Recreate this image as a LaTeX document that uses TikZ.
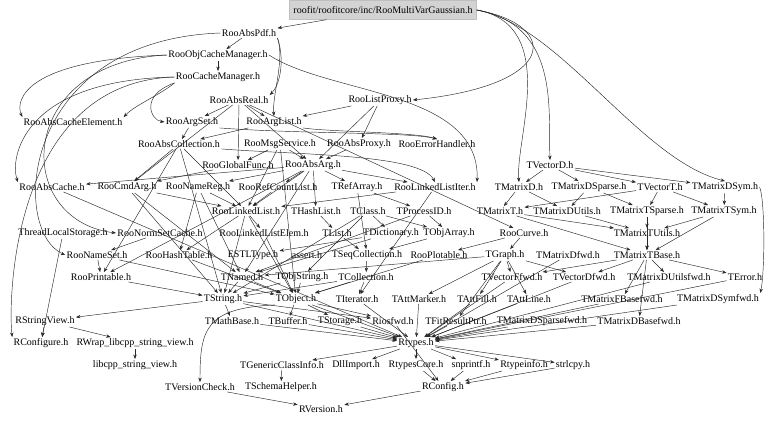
\documentclass[tikz,border=0pt]{standalone}
\usepackage{fontspec}
\setmainfont{Liberation Serif}
\usetikzlibrary{arrows.meta}
\definecolor{ttlfill}{RGB}{211,211,211}
\definecolor{ttldraw}{RGB}{191,191,191}
\definecolor{edgecol}{RGB}{40,40,40}
\tikzset{
  hdr/.style={font=\fontsize{10}{12}\selectfont, inner sep=1.2pt},
  ttl/.style={hdr, fill=ttlfill, draw=ttldraw, minimum width=187pt, minimum height=19pt, inner sep=0pt},
  dep/.style={-{Stealth[length=4.5pt,width=3.4pt]}, draw=edgecol, line width=0.45pt},
}
\begin{document}
\begin{tikzpicture}[x=1pt,y=-1pt]
\useasboundingbox (0,0) rectangle (768,422);
\node[ttl] (title) at (383,10) {roofit/roofitcore/inc/RooMultiVarGaussian.h};
% row 33..100
\node[hdr] (AbsPdf) at (249,33) {RooAbsPdf.h};
\node[hdr] (ObjCM) at (218,55) {RooObjCacheManager.h};
\node[hdr] (CacheM) at (218,77) {RooCacheManager.h};
\node[hdr] (AbsReal) at (239,100) {RooAbsReal.h};
\node[hdr] (ListProxy) at (380,100) {RooListProxy.h};
% 122
\node[hdr] (AbsCacheEl) at (73,122) {RooAbsCacheElement.h};
\node[hdr] (ArgSet) at (192,122) {RooArgSet.h};
\node[hdr] (ArgList) at (274,122) {RooArgList.h};
% 144
\node[hdr] (AbsColl) at (179,144) {RooAbsCollection.h};
\node[hdr] (MsgSvc) at (280,144) {RooMsgService.h};
\node[hdr] (AbsProxy) at (359,144) {RooAbsProxy.h};
\node[hdr] (ErrH) at (437,144) {RooErrorHandler.h};
% 165
\node[hdr] (GlobalFunc) at (238,165) {RooGlobalFunc.h};
\node[hdr] (AbsArg) at (313,165) {RooAbsArg.h};
\node[hdr] (VectorD) at (550,165) {TVectorD.h};
% 187
\node[hdr] (AbsCache) at (52,187) {RooAbsCache.h};
\node[hdr] (CmdArg) at (127,187) {RooCmdArg.h};
\node[hdr] (NameReg) at (198,187) {RooNameReg.h};
\node[hdr] (RefCount) at (278,187) {RooRefCountList.h};
\node[hdr] (TRefArray) at (357,187) {TRefArray.h};
\node[hdr] (LLIter) at (435,187) {RooLinkedListIter.h};
\node[hdr] (MatD) at (519,187) {TMatrixD.h};
\node[hdr] (MatDSp) at (589,187) {TMatrixDSparse.h};
\node[hdr] (VecT) at (660,187) {TVectorT.h};
\node[hdr] (MatDSym) at (725,187) {TMatrixDSym.h};
% 211
\node[hdr] (LinkedList) at (246,211) {RooLinkedList.h};
\node[hdr] (THashList) at (316,211) {THashList.h};
\node[hdr] (TClass) at (368,211) {TClass.h};
\node[hdr] (TProcessID) at (424,211) {TProcessID.h};
\node[hdr] (MatT) at (500,211) {TMatrixT.h};
\node[hdr] (MatDUtils) at (567,211) {TMatrixDUtils.h};
\node[hdr] (MatTSp) at (647,211) {TMatrixTSparse.h};
\node[hdr] (MatTSym) at (724,211) {TMatrixTSym.h};
% 233
\node[hdr] (TLS) at (63,233) {ThreadLocalStorage.h};
\node[hdr] (NormSetCache) at (160,233) {RooNormSetCache.h};
\node[hdr] (LLElem) at (264,233) {RooLinkedListElem.h};
\node[hdr] (TList) at (337,233) {TList.h};
\node[hdr] (TDict) at (391,233) {TDictionary.h};
\node[hdr] (TObjArray) at (449,233) {TObjArray.h};
\node[hdr] (RooCurve) at (524,233) {RooCurve.h};
\node[hdr] (MatTUtils) at (647,233) {TMatrixTUtils.h};
% 255
\node[hdr] (NameSet) at (97,255) {RooNameSet.h};
\node[hdr] (HashTable) at (179,255) {RooHashTable.h};
\node[hdr] (ESTL) at (253,255) {ESTLType.h};
\node[hdr] (assert) at (307,255) {assert.h};
\node[hdr] (TSeqColl) at (367,255) {TSeqCollection.h};
\node[hdr] (Plotable) at (439,255) {RooPlotable.h};
\node[hdr] (TGraph) at (505,255) {TGraph.h};
\node[hdr] (MatDfwd) at (568,255) {TMatrixDfwd.h};
\node[hdr] (MatTBase) at (647,255) {TMatrixTBase.h};
% 277
\node[hdr] (Printable) at (101,277) {RooPrintable.h};
\node[hdr] (TNamed) at (242,277) {TNamed.h};
\node[hdr] (TObjString) at (302,277) {TObjString.h};
\node[hdr] (TCollection) at (366,277) {TCollection.h};
\node[hdr] (VecFfwd) at (512,277) {TVectorFfwd.h};
\node[hdr] (VecDfwd) at (584,277) {TVectorDfwd.h};
\node[hdr] (MatDUtilsfwd) at (669,277) {TMatrixDUtilsfwd.h};
\node[hdr] (TError) at (745,277) {TError.h};
% 299
\node[hdr] (TString) at (223,299) {TString.h};
\node[hdr] (TObject) at (296,299) {TObject.h};
\node[hdr] (TIterator) at (357,299) {TIterator.h};
\node[hdr] (TAttMarker) at (419,299) {TAttMarker.h};
\node[hdr] (TAttFill) at (477,299) {TAttFill.h};
\node[hdr] (TAttLine) at (529,299) {TAttLine.h};
\node[hdr] (MatFBasefwd) at (622,299) {TMatrixFBasefwd.h};
\node[hdr] (MatDSymfwd) at (718,299) {TMatrixDSymfwd.h};
% 321
\node[hdr] (RStringView) at (45,321) {RStringView.h};
\node[hdr] (TMathBase) at (232,321) {TMathBase.h};
\node[hdr] (TBuffer) at (288,321) {TBuffer.h};
\node[hdr] (TStorage) at (340,321) {TStorage.h};
\node[hdr] (Riosfwd) at (393,321) {Riosfwd.h};
\node[hdr] (TFitResultPtr) at (456,321) {TFitResultPtr.h};
\node[hdr] (MatDSpfwd) at (542,321) {TMatrixDSparsefwd.h};
\node[hdr] (MatDBasefwd) at (639,321) {TMatrixDBasefwd.h};
% 343
\node[hdr] (RConfigure) at (41,343) {RConfigure.h};
\node[hdr] (RWrap) at (135,343) {RWrap\_libcpp\_string\_view.h};
\node[hdr] (Rtypes) at (416,343) {Rtypes.h};
% 365
\node[hdr] (libcpp) at (135,365) {libcpp\_string\_view.h};
\node[hdr] (TGenCI) at (282,365) {TGenericClassInfo.h};
\node[hdr] (DllImport) at (356,365) {DllImport.h};
\node[hdr] (RtypesCore) at (416,365) {RtypesCore.h};
\node[hdr] (snprintf) at (471,365) {snprintf.h};
\node[hdr] (Rtypeinfo) at (524,365) {Rtypeinfo.h};
\node[hdr] (strlcpy) at (573,365) {strlcpy.h};
% 387
\node[hdr] (TVersionCheck) at (200,387) {TVersionCheck.h};
\node[hdr] (TSchemaHelper) at (281,387) {TSchemaHelper.h};
\node[hdr] (RConfig) at (443,387) {RConfig.h};
% 409
\node[hdr] (RVersion) at (321,409) {RVersion.h};

% ---- curved edges ----
\draw[dep] (title) -- (AbsPdf);
\draw[dep] (title.east) .. controls (560,25) and (560,85) .. (ListProxy.east);
\draw[dep] (title.east) .. controls (560,25) and (548,110) .. (VectorD.north);
\draw[dep] (title.east) .. controls (560,25) and (515,140) .. (MatD.north);
\draw[dep] (title.east) .. controls (560,25) and (640,160) .. (MatDSym.north);
\draw[dep] (AbsPdf.west) .. controls (20,40) and (10,230) .. (NameSet.west);
\draw[dep] (ObjCM.west) .. controls (25,60) and (15,100) .. (AbsCacheEl.north west);
\draw[dep] (CacheM.west) .. controls (20,80) and (10,160) .. (AbsCache.north west);
\draw[dep] (ObjCM.west) .. controls (15,62) and (12,220) .. (NormSetCache.west);
\draw[dep] (CacheM.west) .. controls (12,82) and (8,300) .. (RConfigure.north west);
\draw[dep] (AbsPdf.south east) .. controls (285,60) and (280,85) .. (AbsReal.north east);
\draw[dep] (AbsPdf.south east) .. controls (285,60) and (272,95) .. (ArgList.north);
\draw[dep] (ObjCM.east) .. controls (330,95) and (480,90) .. (LLIter.north east);
\draw[dep] (CacheM.south west) .. controls (160,95) and (135,105) .. (AbsCacheEl.north east);
\draw[dep] (CacheM.south west) .. controls (140,95) and (150,120) .. (ArgSet.west);
\draw[dep] (ArgSet.south east) .. controls (300,134) and (410,132) .. (ErrH.north);
\draw[dep] (ArgList.south east) .. controls (330,132) and (415,132) .. (ErrH.north);
\draw[dep] (AbsColl.south east) .. controls (300,155) and (420,154) .. (LLIter.north);
\draw[dep] (TObject.south west) .. controls (205,308) and (200,330) .. (TVersionCheck.north);
\draw[dep] (MatDSym.east) .. controls (765,200) and (765,270) .. (MatDSymfwd.north east);

\foreach \a/\b in {
 AbsPdf/ObjCM, ObjCM/CacheM,
 AbsReal/ArgSet, AbsReal/ArgList, AbsReal/GlobalFunc, AbsReal/AbsArg, AbsReal/CmdArg, AbsReal/RooCurve,
 ListProxy/ArgList, ListProxy/AbsProxy, ListProxy/AbsArg,
 ArgSet/AbsColl, ArgList/AbsColl,
 AbsColl/Printable, AbsColl/LinkedList, AbsColl/CmdArg, AbsColl/TString,
 MsgSvc/GlobalFunc, MsgSvc/TObject, MsgSvc/AbsArg, MsgSvc/LinkedList,
 AbsProxy/AbsArg, GlobalFunc/CmdArg,
 AbsArg/TNamed, AbsArg/THashList, AbsArg/TRefArray, AbsArg/Printable, AbsArg/RefCount, AbsArg/AbsCache, AbsArg/LLIter, AbsArg/NameReg, AbsArg/LinkedList,
 AbsCache/Rtypes, CmdArg/TNamed, CmdArg/TString, CmdArg/LinkedList,
 NameReg/TNamed, NameReg/HashTable, NameReg/LinkedList, RefCount/LinkedList,
 TRefArray/TSeqColl, TRefArray/TProcessID, LLIter/TIterator, LLIter/LinkedList,
 MatD/MatT, MatD/MatDUtils, MatDSp/MatTSp, MatDSp/MatDUtils,
 VectorD/VecT, VectorD/MatD, VectorD/MatDSp, VectorD/MatDSym,
 VecT/MatT, VecT/MatTSym, VecT/MatTSp, MatDSym/MatTSym,
 LinkedList/LLElem, LinkedList/HashTable, LinkedList/TObject, LinkedList/TString,
 THashList/TList, TClass/TDict, TClass/TObjArray, TClass/TObjString, TClass/TString,
 TProcessID/TNamed, TProcessID/TObjArray,
 MatT/MatTBase, MatT/MatTUtils, MatDUtils/MatTUtils, MatTSp/MatTBase, MatTSp/MatTUtils, MatTSym/MatTBase, MatTSym/MatTUtils,
 NormSetCache/NameSet, LLElem/TObject, TList/TSeqColl, TDict/TNamed, TDict/ESTL, TObjArray/TSeqColl,
 RooCurve/TGraph, RooCurve/Plotable, MatTUtils/MatTBase,
 NameSet/Printable, NameSet/TObject, HashTable/TObject, TSeqColl/TCollection, Plotable/TObject,
 TGraph/TNamed, TGraph/TAttLine, TGraph/TAttFill, TGraph/TAttMarker, TGraph/VecFfwd, TGraph/VecDfwd, TGraph/TFitResultPtr,
 MatDfwd/Rtypes, MatTBase/MatFBasefwd, MatTBase/MatDBasefwd, MatTBase/VecFfwd, MatTBase/VecDfwd, MatTBase/TError, MatTBase/MatDUtilsfwd,
 Printable/TString, TNamed/TObject, TNamed/TString, TObjString/TObject, TObjString/TString,
 TCollection/TObject, TCollection/TIterator, TCollection/TString,
 VecFfwd/Rtypes, VecDfwd/Rtypes, MatDUtilsfwd/Rtypes, TError/Rtypes,
 TString/TMathBase, TString/RStringView, TString/Riosfwd, TString/Rtypes,
 TObject/Rtypes, TObject/TStorage, TObject/Riosfwd, TObject/TBuffer,
 TIterator/Rtypes, TAttMarker/Rtypes, TAttFill/Rtypes, TAttLine/Rtypes,
 MatFBasefwd/Rtypes, MatDSymfwd/Rtypes, RStringView/RConfigure, RStringView/RWrap,
 TMathBase/Rtypes, TStorage/Rtypes, Riosfwd/RConfig, TFitResultPtr/Rtypes, MatDSpfwd/Rtypes, MatDBasefwd/Rtypes,
 RWrap/libcpp, Rtypes/RtypesCore, Rtypes/DllImport, Rtypes/Rtypeinfo, Rtypes/snprintf, Rtypes/strlcpy, Rtypes/TGenCI,
 TGenCI/TSchemaHelper, RtypesCore/RConfig, snprintf/RConfig, Rtypeinfo/RConfig, strlcpy/RConfig,
 TVersionCheck/RVersion, RConfig/RVersion, TBuffer/Rtypes, TLS/RConfigure}
 \draw[dep] (\a) -- (\b);
\end{tikzpicture}
\end{document}
